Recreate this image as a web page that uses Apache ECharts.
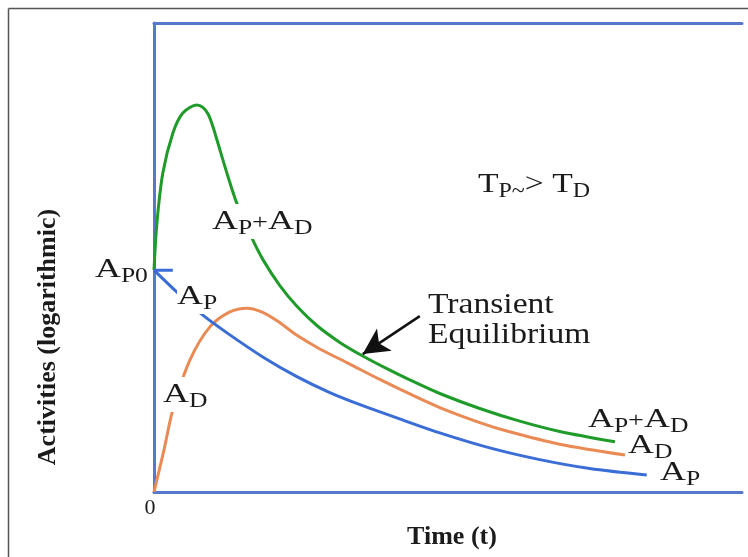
<!DOCTYPE html>
<html>
<head>
<meta charset="utf-8">
<title>Transient equilibrium</title>
<script src="https://cdn.jsdelivr.net/npm/echarts@6/dist/echarts.min.js"></script>
<style>
  html, body { margin: 0; padding: 0; background: #fff; }
  #chart { width: 748px; height: 557px; }
</style>
</head>
<body>
<div id="chart"></div>
<script>
// ----------data----------
// time (arbitrary units) and log-activity (arbitrary units)
const apdT = [0, 0.5, 1.5, 3.2, 4.9, 7.3, 8.3, 9.2, 10.0, 10.7, 12.4, 14.1, 16.7, 18.5, 21.4, 24.3, 27.7, 31.6, 35.5, 39.6, 43.5, 48.6, 55.4, 62.2, 69.0, 78.4];
const apdV = [47.3, 57.4, 68.0, 76.5, 80.8, 82.5, 82.0, 80.6, 78.0, 75.1, 68.0, 61.5, 54.0, 49.6, 44.0, 39.6, 35.5, 31.9, 29.0, 26.3, 23.9, 21.0, 17.8, 15.1, 12.9, 10.7];

const adT = [0, 1.7, 3.2, 6.1, 9.5, 12.9, 15.8, 18.5, 21.4, 24.3, 28.2, 32.8, 38.4, 43.5, 48.6, 55.4, 60.0, 69.0, 80.1];
const adV = [0, 9.0, 17.5, 28.1, 35.2, 38.4, 39.2, 38.3, 36.1, 33.4, 30.5, 27.6, 24.0, 20.9, 18.0, 14.8, 13.0, 10.2, 7.9];

const apT = [0, 3.9, 8.3, 12.9, 18.5, 24.3, 29.9, 35.5, 41.3, 48.6, 57.1, 65.6, 74.1, 83.8];
const apV = [47.3, 42.6, 37.7, 33.5, 28.8, 24.6, 21.2, 18.4, 15.8, 12.6, 9.4, 6.9, 5.0, 3.6];

const ap0Tick = [[0, 47.3], [3.2, 47.3]];          // A_P0 marker
const arrowFrom = [45.2, 37.5];                    // "Transient Equilibrium" arrow
const arrowTo = [35.5, 29.4];
// -------------------------

const pairs = (t, v) => t.map((x, i) => [x, v[i]]);

const ink = '#1b1b1b';
const serif = '"Liberation Serif", "Times New Roman", serif';
const frameBlue = '#5678cc';

// rich text styles: base letter + subscript (the source lettering is stretched sideways)
const rich = {
  b: { fontSize: 28, fontFamily: serif, color: ink },
  m: { fontSize: 22, fontFamily: serif, color: ink, padding: [4, 0, 0, 0] },
  s: { fontSize: 20, fontFamily: serif, color: ink, padding: [15, 0, 0, 0] },
};
// labels sitting on a curve get a white box so the line is broken under them
const label = (text, x, baseY, opts = {}) => ({
  type: 'text',
  x, y: baseY - 26, scaleX: opts.sx || 1.28, z: 100,
  style: {
    text, rich, align: 'left', verticalAlign: 'top', fill: ink,
    backgroundColor: opts.cover ? '#fff' : null,
  },
});

const chart = echarts.init(document.getElementById('chart'));

const option = {
  animation: false,
  backgroundColor: '#fff',
  grid: { left: 154, right: 6, top: 23, bottom: 65 },
  xAxis: [
    {
      type: 'value', min: 0, max: 100, interval: 100,
      axisLine: { lineStyle: { color: frameBlue, width: 3 } },
      axisTick: { show: false },
      splitLine: { show: false },
      axisLabel: {
        formatter: v => (v === 0 ? '0' : ''),
        fontSize: 22, fontFamily: serif, color: ink, margin: 5, padding: [0, 8, 0, 0],
      },
      name: 'Time (t)',
      nameLocation: 'middle',
      nameGap: 20,
      nameTextStyle: { fontSize: 26, fontWeight: 'bold', fontFamily: serif, color: ink, padding: [0, 0, 0, 8] },
    },
    {
      type: 'value', min: 0, max: 100, position: 'top',
      axisLine: { lineStyle: { color: frameBlue, width: 3 } },
      axisTick: { show: false }, axisLabel: { show: false }, splitLine: { show: false },
    },
  ],
  yAxis: {
    type: 'value', min: 0, max: 100,
    axisLine: { show: true, lineStyle: { color: frameBlue, width: 3 } },
    axisTick: { show: false }, axisLabel: { show: false }, splitLine: { show: false },
  },
  series: [
    {
      name: 'AP+AD', type: 'line', data: pairs(apdT, apdV),
      smooth: 0.3, showSymbol: false,
      lineStyle: { color: '#1f9b2a', width: 3 },
      markLine: {
        silent: true, animation: false,
        symbol: ['none', 'arrow'], symbolSize: [20, 26],
        lineStyle: { color: '#111', width: 2.5, type: 'solid' },
        label: { show: false },
        data: [[{ coord: arrowFrom }, { coord: arrowTo }]],
      },
    },
    {
      name: 'AD', type: 'line', data: pairs(adT, adV),
      smooth: 0.3, showSymbol: false,
      lineStyle: { color: '#ea8a55', width: 3 },
    },
    {
      name: 'AP', type: 'line', data: pairs(apT, apV),
      smooth: 0.3, showSymbol: false,
      lineStyle: { color: '#3a6dd6', width: 3 },
    },
    {
      name: 'AP0', type: 'line', data: ap0Tick, showSymbol: false,
      lineStyle: { color: '#3a6dd6', width: 3 },
    },
  ],
  graphic: [
    // outer frame
    { type: 'line', shape: { x1: 8.5, y1: 8.5, x2: 748, y2: 8.5 }, style: { stroke: '#555', lineWidth: 1.5 } },
    { type: 'line', shape: { x1: 8.5, y1: 8.5, x2: 8.5, y2: 557 }, style: { stroke: '#555', lineWidth: 1.5 } },
    // y-axis title
    {
      type: 'text', x: 48, y: 337, rotation: Math.PI / 2,
      style: {
        text: 'Activities (logarithmic)', fontSize: 26, fontWeight: 'bold', fontFamily: serif,
        fill: ink, align: 'center', verticalAlign: 'middle',
      },
    },
    label('{b|A}{s|P0}', 95, 278),
    label('{b|A}{s|P}', 177, 305, { cover: true }),
    label('{b|A}{s|D}', 163, 403, { cover: true }),
    label('{b|A}{s|P}{m|+}{b|A}{s|D}', 212, 230, { cover: true }),
    label('{b|T}{s|P}{s|~}{b|> T}{s|D}', 478, 193, { sx: 1.2 }),
    label('{b|A}{s|P}{m|+}{b|A}{s|D}', 588, 428),
    label('{b|A}{s|D}', 628, 454),
    label('{b|A}{s|P}', 660, 481),
    {
      type: 'text', x: 428, y: 290, scaleX: 1.12, z: 100,
      style: {
        text: 'Transient\nEquilibrium', fontSize: 30, lineHeight: 30, fontFamily: serif,
        fill: ink, align: 'left', verticalAlign: 'top',
      },
    },
  ],
};

chart.setOption(option);
</script>
</body>
</html>
